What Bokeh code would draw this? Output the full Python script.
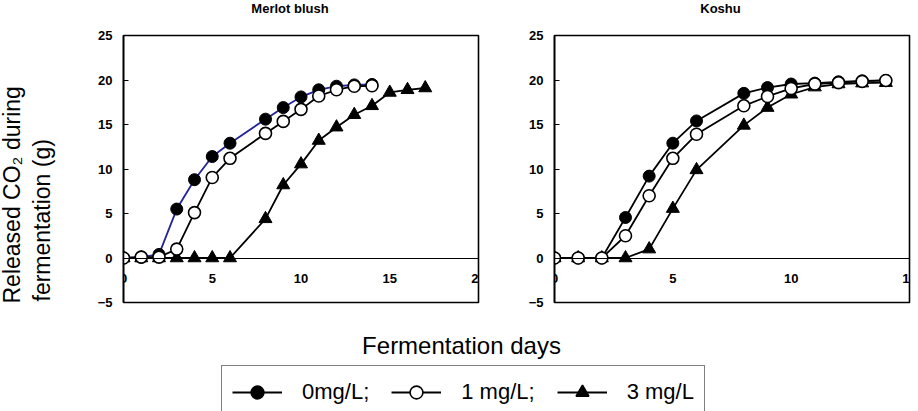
from math import pi

from bokeh.embed import file_html
from bokeh.layouts import column, row
from bokeh.models import FixedTicker, Label, Legend, LegendItem, Range1d
from bokeh.plotting import figure
from bokeh.resources import INLINE

# ---- data: cumulative CO2 released (g) per fermentation day ----
merlot_days = [0, 1, 2, 3, 4, 5, 6, 8, 9, 10, 11, 12, 13, 14]
merlot_0mg = [0, 0.1, 0.4, 5.5, 8.8, 11.4, 12.9, 15.6, 16.9, 18.1, 18.9, 19.3, 19.45, 19.5]
merlot_1mg = [0, 0.1, 0.1, 1.0, 5.1, 9.05, 11.2, 14.0, 15.35, 16.7, 18.2, 18.9, 19.3, 19.35]
merlot_days_3mg = [0, 1, 2, 3, 4, 5, 6, 8, 9, 10, 11, 12, 13, 14, 15, 16, 17]
merlot_3mg = [0, 0, 0, 0, 0, 0, 0, 4.4, 8.2, 10.55, 13.2, 14.7, 16.1, 17.1, 18.6, 18.9, 19.1]

koshu_days = [0, 1, 2, 3, 4, 5, 6, 8, 9, 10, 11, 12, 13, 14]
koshu_0mg = [0, 0, 0, 4.55, 9.2, 12.9, 15.4, 18.5, 19.15, 19.55, 19.65, 19.8, 19.9, 19.95]
koshu_1mg = [0, 0, 0, 2.5, 7.0, 11.2, 13.9, 17.1, 18.15, 19.05, 19.55, 19.7, 19.85, 19.95]
koshu_3mg = [0, 0, 0, 0, 1.0, 5.55, 9.9, 14.9, 16.9, 18.4, 19.2, 19.55, 19.65, 19.7]

y_ticks = [-5, 0, 5, 10, 15, 20, 25]
merlot_x_ticks = [0, 5, 10, 15, 20]
koshu_x_ticks = [0, 5, 10, 15]

panel_titles = ["Merlot blush", "Koshu"]
y_title_lines = ["Released CO\u2082 during", "fermentation (g)"]
x_title = "Fermentation days"
legend_labels = ["0mg/L;", "1 mg/L;", "3 mg/L"]

FONT = "Liberation Sans"
BLUE = "#23239a"
LW = 1.8
CIRCLE = 12
TRIANGLE = 13


def strip(width, height):
    """A plain drawing area whose data units are pixels (y measured upwards)."""
    s = figure(
        frame_width=width, frame_height=height,
        x_range=Range1d(0, width), y_range=Range1d(0, height),
        x_axis_location=None, y_axis_location=None, min_border=0,
        output_backend="svg", toolbar_location=None,
    )
    s.grid.visible = False
    s.outline_line_color = None
    return s


def make_panel(x_max, x_ticks, border_left, border_right):
    p = figure(
        frame_width=355, frame_height=267,
        x_range=Range1d(0, x_max), y_range=Range1d(-5, 25),
        min_border_left=border_left, min_border_right=border_right,
        min_border_top=7, min_border_bottom=18,
        output_backend="svg", toolbar_location=None,
    )
    p.grid.visible = False
    p.outline_line_color = "black"
    p.outline_line_width = 1.6
    p.background_fill_color = "white"
    p.border_fill_color = "white"

    # vertical axis with inward ticks
    p.yaxis.ticker = FixedTicker(ticks=y_ticks)
    p.yaxis.major_tick_in = 5
    p.yaxis.major_tick_out = 0
    p.yaxis.minor_tick_line_color = None
    p.yaxis.axis_line_width = 1.6
    p.yaxis.major_label_standoff = 11
    p.yaxis.major_label_text_font = FONT
    p.yaxis.major_label_text_font_style = "bold"
    p.yaxis.major_label_text_font_size = "13px"
    p.yaxis.major_label_text_color = "black"

    # horizontal axis crossing at y = 0
    p.xaxis.fixed_location = 0
    p.xaxis.ticker = FixedTicker(ticks=x_ticks)
    p.xaxis.major_tick_in = 0
    p.xaxis.major_tick_out = 0
    p.xaxis.minor_tick_line_color = None
    p.xaxis.axis_line_width = 1.2
    p.xaxis.major_label_standoff = 16
    p.xaxis.major_label_text_font = FONT
    p.xaxis.major_label_text_font_style = "bold"
    p.xaxis.major_label_text_font_size = "13px"
    p.xaxis.major_label_text_color = "black"
    return p


def draw_series(p, days0, v0, days1, v1, days3, v3, line0_color):
    p.line(days3, v3, line_color="black", line_width=LW)
    p.scatter(days3, v3, marker="triangle", size=TRIANGLE, fill_color="black", line_color="black")
    p.line(days0, v0, line_color=line0_color, line_width=LW)
    p.scatter(days0, v0, marker="circle", size=CIRCLE, fill_color="black", line_color="black")
    p.line(days1, v1, line_color="black", line_width=LW)
    p.scatter(days1, v1, marker="circle", size=CIRCLE, fill_color="white",
              line_color="black", line_width=1.6)


# panel titles
top = strip(918, 28)
for text, cx in zip(panel_titles, [289.5, 720]):
    top.add_layout(Label(
        x=cx, y=20, text=text, text_align="center", text_baseline="middle",
        text_font=FONT, text_font_style="bold", text_font_size="13px", text_color="black",
    ))

# shared y-axis title: two lines starting from the same height
ytitle = strip(60, 292)
for text, bx, by in zip(y_title_lines, [11, 41], [24, 26]):
    ytitle.add_layout(Label(
        x=bx, y=by, text=text, angle=pi / 2,
        text_align="left", text_baseline="alphabetic",
        text_font=FONT, text_font_size="23px", text_color="black",
    ))

left = make_panel(20, merlot_x_ticks, 63, 38)
draw_series(left, merlot_days, merlot_0mg, merlot_days, merlot_1mg,
            merlot_days_3mg, merlot_3mg, BLUE)

right = make_panel(15, koshu_x_ticks, 38, 9)
draw_series(right, koshu_days, koshu_0mg, koshu_days, koshu_1mg,
            koshu_days, koshu_3mg, "black")

# bottom strip: x-axis title and the shared legend
bottom = strip(918, 91)
bottom.add_layout(Label(
    x=461, y=66, text=x_title, text_align="center", text_baseline="middle",
    text_font=FONT, text_font_size="24px", text_color="black",
))

# key swatches reuse the Merlot series as hidden sources
key_series = [
    (merlot_days, merlot_0mg, dict(marker="circle", size=CIRCLE, fill_color="black")),
    (merlot_days, merlot_1mg, dict(marker="circle", size=CIRCLE, fill_color="white")),
    (merlot_days_3mg, merlot_3mg, dict(marker="triangle", size=TRIANGLE, fill_color="black")),
]
items = []
for label, (xs, ys, style) in zip(legend_labels, key_series):
    ln = bottom.line(xs, ys, line_color="black", line_width=LW, visible=False)
    mk = bottom.scatter(xs, ys, line_color="black", line_width=1.6, visible=False, **style)
    items.append(LegendItem(label=label, renderers=[ln, mk]))

legend = Legend(
    items=items, orientation="horizontal", location=(221, -8),
    glyph_width=50, glyph_height=32, label_standoff=20, spacing=22,
    padding=10, margin=0,
    border_line_color="black", border_line_width=1.6,
    background_fill_color="white", background_fill_alpha=1.0,
    inactive_fill_alpha=0.0,
    label_text_font=FONT, label_text_font_size="22px", label_text_color="black",
)
bottom.add_layout(legend)

layout = column(top, row(ytitle, left, right), bottom)

open("out.html", "w").write(file_html(layout, INLINE))
